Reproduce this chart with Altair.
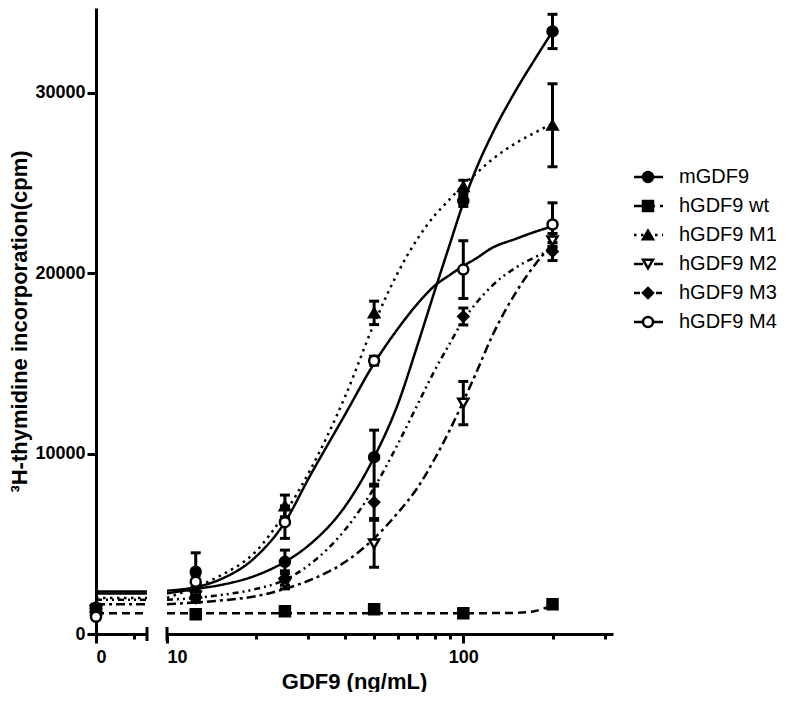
import altair as alt
import pandas as pd

FONT = "Liberation Sans"

# ---------------- data ----------------
names = ["mGDF9", "hGDF9 wt", "hGDF9 M1", "hGDF9 M2", "hGDF9 M3", "hGDF9 M4"]
shapes = ["circle", "square", "triangle-up", "triangle-down", "diamond", "circle"]
fills = ["black", "black", "black", "white", "black", "white"]
dashes = [[1, 0], [8, 5], [2.5, 4.5], [9, 4, 3, 4], [6, 4, 2, 4, 2, 4], [1, 0]]

doses = [12.5, 25, 50, 100, 200]
means = {
    "mGDF9":    [3450, 4000, 9800, 24000, 33400],
    "hGDF9 wt": [1100, 1260, 1370, 1150, 1650],
    "hGDF9 M1": [2300, 7100, 17800, 24800, 28200],
    "hGDF9 M2": [2100, 2800, 5000, 12800, 21800],
    "hGDF9 M3": [2000, 3100, 7300, 17600, 21200],
    "hGDF9 M4": [2900, 6200, 15150, 20200, 22700],
}
sems = {
    "mGDF9":    [1050, 650, 1500, 300, 950],
    "hGDF9 wt": [120, 100, 100, 80, 100],
    "hGDF9 M1": [300, 600, 650, 350, 2300],
    "hGDF9 M2": [250, 300, 1300, 1200, 400],
    "hGDF9 M3": [250, 400, 900, 470, 500],
    "hGDF9 M4": [350, 900, 250, 1600, 1200],
}
control_mean = [1450, 1350, 1500, 1300, 1400, 950]
control_sem = [150, 120, 150, 120, 150, 130]
bottoms = [2250, 1150, 2000, 1650, 1900, 2350]

curve_x = [10, 12.5, 15, 20, 25, 30, 40, 50, 60, 70, 80, 90, 100, 110, 125, 150, 175, 200]
curves = {
    "mGDF9":    [2250, 2500, 2700, 3250, 4000, 4900, 7100, 9800, 12700, 16000, 19000, 21600, 23900, 25700, 27700, 30100, 31900, 33400],
    "hGDF9 wt": [1150, 1150, 1150, 1150, 1150, 1150, 1150, 1150, 1150, 1150, 1150, 1150, 1150, 1150, 1160, 1170, 1280, 1580],
    "hGDF9 M1": [2000, 2600, 3200, 4600, 6700, 8900, 13200, 17200, 20000, 21900, 23200, 24100, 24900, 25500, 26300, 27200, 27800, 28300],
    "hGDF9 M2": [1650, 1750, 1850, 2100, 2500, 2950, 4000, 5300, 6700, 8100, 9700, 11300, 12900, 14400, 16500, 18900, 20500, 21600],
    "hGDF9 M3": [1900, 2000, 2150, 2500, 3000, 3800, 5800, 8100, 10500, 12700, 14600, 16100, 17400, 18300, 19300, 20300, 20900, 21300],
    "hGDF9 M4": [2400, 2600, 3000, 4300, 6200, 8600, 12200, 15000, 16900, 18300, 19300, 19900, 20400, 20800, 21400, 21900, 22300, 22600],
}

left_ext = [0, 8]
left_ticks = [0, 6]
right_ticks = [10, 20, 30, 40, 50, 60, 70, 80, 90, 100, 200, 300]
y_ticks = [0, 10000, 20000, 30000]

# ---------------- tables ----------------
pts = pd.DataFrame([
    {"series": n, "dose": d, "mean": m, "lo": m - s, "hi": m + s}
    for n in names for d, m, s in zip(doses, means[n], sems[n])
])
ctrl = pd.DataFrame({
    "series": names, "dose": 0, "mean": control_mean,
    "lo": [m - s for m, s in zip(control_mean, control_sem)],
    "hi": [m + s for m, s in zip(control_mean, control_sem)],
})
base = pd.DataFrame({"series": names, "bottom": bottoms, "x0": left_ext[0], "x1": left_ext[1]})
crv = pd.DataFrame([
    {"series": n, "x": x, "y": y} for n in names for x, y in zip(curve_x, curves[n])
])
leg = pd.DataFrame({"series": names, "row": list(range(len(names)))})
cap_l = pd.DataFrame({"x": [left_ext[1]], "y": [0]})
cap_r = pd.DataFrame({"x": [10], "y": [0]})

# ---------------- scales / axes ----------------
yscale = alt.Scale(domain=[0, 34700], nice=False, zero=False)
xl_scale = alt.Scale(domain=left_ext, nice=False, zero=False)
xr_scale = alt.Scale(type="log", domain=[10, 320], nice=False)
dash_scale = alt.Scale(domain=names, range=dashes)
shape_scale = alt.Scale(domain=names, range=shapes)
fill_scale = alt.Scale(domain=names, range=fills)

y_axis = alt.Axis(values=y_ticks, format="d", title="³H-thymidine incorporation(cpm)",
                  titleFontSize=22, titleFontWeight="bold", titlePadding=3,
                  tickSize=9, labelPadding=2, labelFontSize=18, labelFontWeight="bold")
xl_axis = alt.Axis(values=left_ticks, labelExpr="datum.value == 0 ? '0' : ''",
                   tickSize={"condition": {"test": "datum.value == 0", "value": 9}, "value": 5},
                   title=None, labelPadding=5, labelFontSize=18, labelFontWeight="bold")
xr_axis = alt.Axis(values=right_ticks,
                   labelExpr="datum.value == 10 ? '10' : (datum.value == 100 ? '100' : '')",
                   tickSize={"condition": {"test": "datum.value == 10 || datum.value == 100", "value": 9}, "value": 5},
                   title="GDF9 (ng/mL)", titleX=187, titleFontSize=22, titleFontWeight="bold",
                   titlePadding=5, labelPadding=5, labelFontSize=18, labelFontWeight="bold")
y_none = alt.Axis(values=y_ticks, title=None, labels=False, ticks=False, domain=False)

W_L, W_R, W_LEG, H = 51, 446, 132, 626


def enc_left(xf, yf):
    return dict(x=alt.X(xf, scale=xl_scale, axis=xl_axis), y=alt.Y(yf, scale=yscale, axis=y_axis))


def enc_right(xf, yf):
    return dict(x=alt.X(xf, scale=xr_scale, axis=xr_axis), y=alt.Y(yf, scale=yscale, axis=y_none))


# ---------------- left panel (0 dose) ----------------
l_base = alt.Chart(base).mark_rule(strokeWidth=2.5, color="black", opacity=1).encode(
    **enc_left("x0:Q", "bottom:Q"), x2="x1:Q",
    strokeDash=alt.StrokeDash("series:N", scale=dash_scale, legend=None),
)
l_err = alt.Chart(ctrl).mark_rule(strokeWidth=3, color="black", opacity=1).encode(
    **enc_left("dose:Q", "lo:Q"), y2="hi:Q")
l_cap1 = alt.Chart(ctrl).mark_tick(orient="horizontal", size=10, thickness=3, color="black", opacity=1).encode(
    **enc_left("dose:Q", "lo:Q"))
l_cap2 = alt.Chart(ctrl).mark_tick(orient="horizontal", size=10, thickness=3, color="black", opacity=1).encode(
    **enc_left("dose:Q", "hi:Q"))
l_pts = alt.Chart(ctrl).mark_point(size=100, stroke="black", strokeWidth=2.5, opacity=1, fillOpacity=1).encode(
    **enc_left("dose:Q", "mean:Q"),
    shape=alt.Shape("series:N", scale=shape_scale, legend=None),
    fill=alt.Fill("series:N", scale=fill_scale, legend=None),
)
l_brk = alt.Chart(cap_l).mark_tick(orient="vertical", size=14, thickness=3, color="black", opacity=1).encode(
    **enc_left("x:Q", "y:Q"))
left = alt.layer(l_base, l_err, l_cap1, l_cap2, l_pts, l_brk).properties(width=W_L, height=H)

# ---------------- right panel (log dose) ----------------
r_line = alt.Chart(crv).mark_line(strokeWidth=2.5, color="black", interpolate="monotone").encode(
    **enc_right("x:Q", "y:Q"),
    detail="series:N",
    strokeDash=alt.StrokeDash("series:N", scale=dash_scale, legend=None),
)
r_err = alt.Chart(pts).mark_rule(strokeWidth=3, color="black", opacity=1).encode(
    **enc_right("dose:Q", "lo:Q"), y2="hi:Q")
r_cap1 = alt.Chart(pts).mark_tick(orient="horizontal", size=10, thickness=3, color="black", opacity=1).encode(
    **enc_right("dose:Q", "lo:Q"))
r_cap2 = alt.Chart(pts).mark_tick(orient="horizontal", size=10, thickness=3, color="black", opacity=1).encode(
    **enc_right("dose:Q", "hi:Q"))
r_pts = alt.Chart(pts).mark_point(size=100, stroke="black", strokeWidth=2.5, opacity=1, fillOpacity=1).encode(
    **enc_right("dose:Q", "mean:Q"),
    shape=alt.Shape("series:N", scale=shape_scale, legend=None),
    fill=alt.Fill("series:N", scale=fill_scale, legend=None),
)
r_brk = alt.Chart(cap_r).mark_tick(orient="vertical", size=14, thickness=3, color="black", opacity=1).encode(
    **enc_right("x:Q", "y:Q"))
right = alt.layer(r_line, r_err, r_cap1, r_cap2, r_pts, r_brk).properties(width=W_R, height=H)

# ---------------- custom legend ----------------
# rows 29 px apart, first row about 169 px below the plot top
leg_y = alt.Y("row:Q", scale=alt.Scale(domain=[-169 / 29, (H - 169) / 29], reverse=True, nice=False, zero=False),
              axis=None)
g_line = alt.Chart(leg).mark_rule(strokeWidth=2.5, color="black").encode(
    x=alt.value(1), x2=alt.value(30), y=leg_y,
    strokeDash=alt.StrokeDash("series:N", scale=dash_scale, legend=None))
g_pts = alt.Chart(leg).mark_point(size=100, stroke="black", strokeWidth=2.5, opacity=1, fillOpacity=1).encode(
    x=alt.value(15), y=leg_y,
    shape=alt.Shape("series:N", scale=shape_scale, legend=None),
    fill=alt.Fill("series:N", scale=fill_scale, legend=None))
g_txt = alt.Chart(leg).mark_text(align="left", baseline="middle", fontSize=20, font=FONT, color="black").encode(
    x=alt.value(46), y=leg_y, text="series:N")
legend = alt.layer(g_line, g_pts, g_txt).properties(width=W_LEG, height=H)

chart = alt.hconcat(left, right, legend, spacing=20, bounds="flush").properties(
    padding={"left": 0, "top": 0, "right": 0, "bottom": 0}
).configure_view(stroke=None).configure_axis(
    domainWidth=3, tickWidth=3, domainColor="black", tickColor="black",
    labelColor="black", titleColor="black", labelFont=FONT, titleFont=FONT, grid=False,
)

chart.save("out.html", embed_options={"renderer": "svg", "actions": False})
